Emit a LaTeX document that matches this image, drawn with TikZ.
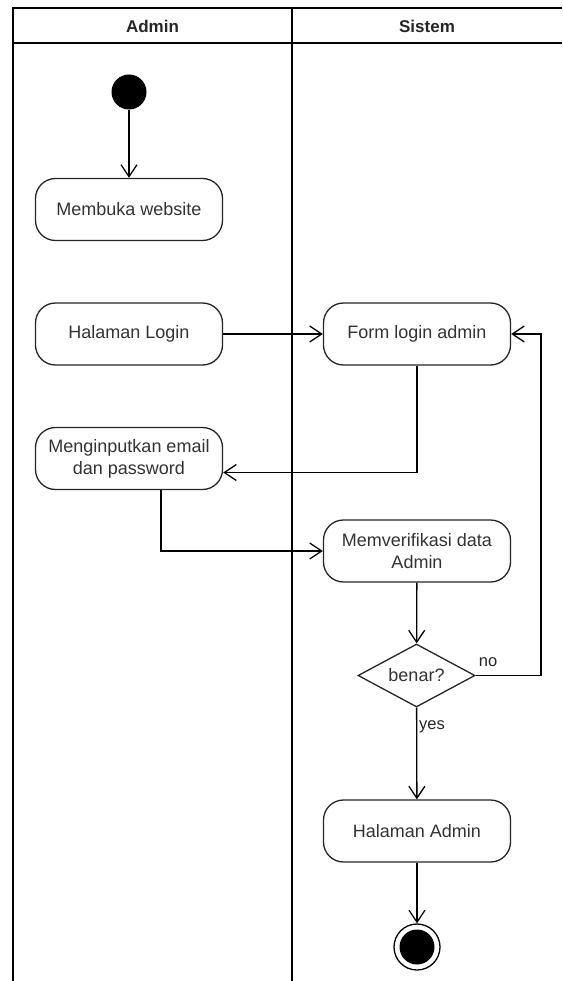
\documentclass[tikz,border=0pt]{standalone}
\usepackage{fontspec}
\setmainfont{Liberation Sans}
\usetikzlibrary{shapes.geometric,arrows.meta}
\begin{document}
\begin{tikzpicture}[x=1pt,y=-1pt,
  lanebox/.style={draw=black,line width=1.3pt},
  hdr/.style={font=\fontsize{17}{20}\selectfont\bfseries,text=black!85},
  act/.style={draw=black!85,line width=1.3pt,rounded corners=20pt,minimum width=187pt,minimum height=62pt,align=center,inner sep=0pt,font=\fontsize{18}{22}\selectfont,text=black!80},
  dec/.style={draw=black!85,line width=1.3pt,diamond,aspect=1.86,minimum width=117pt,minimum height=63pt,inner sep=0pt,font=\fontsize{18}{22}\selectfont,text=black!80},
  startnode/.style={circle,fill=black,minimum size=35pt,inner sep=0pt},
  endouter/.style={circle,draw=black,line width=1.3pt,minimum size=46pt,inner sep=0pt},
  endinner/.style={circle,fill=black,minimum size=35pt,inner sep=0pt},
  flow/.style={draw=black,line width=1.3pt,-{Straight Barb[length=12pt,width=16pt,line width=1.3pt]}},
  elabel/.style={font=\fontsize{16.5}{19}\selectfont,text=black!85,inner sep=0pt}
]
\useasboundingbox (0,0) rectangle (562,981);
% swimlanes
\draw[lanebox] (562,8) -- (13,8) -- (13,981);
\draw[lanebox] (13,43) -- (562,43);
\draw[lanebox] (292,8) -- (292,981);
\node[hdr] (hA) at (152.5,26) {Admin};
\node[hdr] (hS) at (427,26) {Sistem};
% nodes
\node[startnode] (start) at (129,92) {};
\node[act] (buka) at (129,209.5) {Membuka website};
\node[act] (login) at (129,334) {Halaman Login};
\node[act] (form) at (417,334) {Form login admin};
\node[act] (input) at (129,458.5) {Menginputkan email\\dan password};
\node[act] (verif) at (417,551) {Memverifikasi data\\Admin};
\node[dec] (cek) at (416.5,675.5) {benar?};
\node[act] (adm) at (417,831) {Halaman Admin};
\node[endouter] (fin) at (417,947) {};
\node[endinner] (fininner) at (417,947) {};
\coordinate (ret) at (541,334);
% connectors
\draw[flow] (start) -- (buka);
\draw[flow] (login) -- (form);
\draw[flow] (form.south) |- ([yshift=-14pt]input.east);
\draw[flow] ([xshift=32pt]input.south) |- (verif.west);
\draw[flow] (verif) -- (cek);
\draw[flow] (cek.east) -| (ret) -- (form.east);
\draw[flow] (cek) -- (adm);
\draw[flow] (adm) -- (fin);
\node[elabel] (lno) at (488,662) {no};
\node[elabel] (lyes) at (432,727) {yes};
\end{tikzpicture}
\end{document}
